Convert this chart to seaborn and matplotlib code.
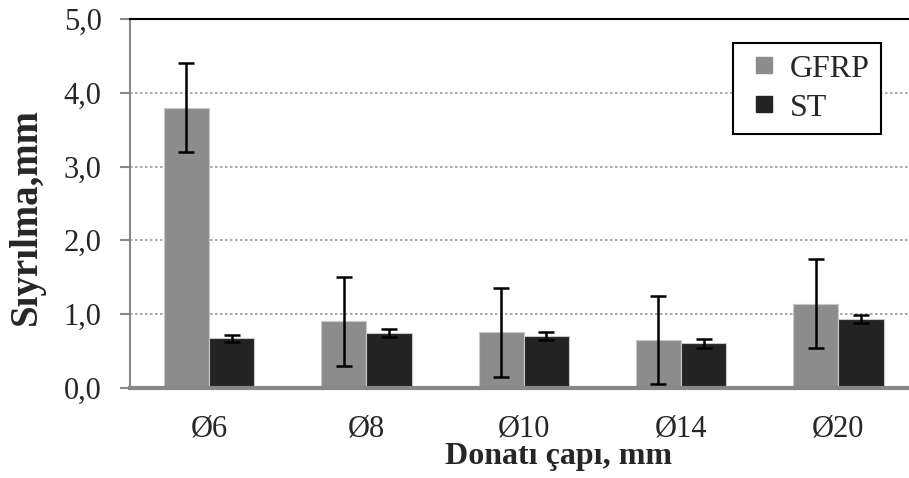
import matplotlib
matplotlib.use("Agg")
import matplotlib.pyplot as plt
from matplotlib.lines import Line2D
import seaborn as sns
import pandas as pd
import numpy as np

categories = ["Ø6", "Ø8", "Ø10", "Ø14", "Ø20"]
series = ["GFRP", "ST"]
gfrp_values = [3.80, 0.90, 0.75, 0.65, 1.14]
st_values = [0.67, 0.74, 0.70, 0.60, 0.93]
gfrp_err = [0.60, 0.60, 0.60, 0.60, 0.60]
st_err = [0.05, 0.055, 0.05, 0.06, 0.055]
yticks = [0.0, 1.0, 2.0, 3.0, 4.0, 5.0]
ytick_labels = ["0,0", "1,0", "2,0", "3,0", "4,0", "5,0"]
colors = {"GFRP": "#8c8c8c", "ST": "#232323"}

df = pd.DataFrame({
    "cat": categories * 2,
    "series": ["GFRP"] * len(categories) + ["ST"] * len(categories),
    "val": gfrp_values + st_values,
})
errs = {"GFRP": gfrp_err, "ST": st_err}

sns.set_style("white")
plt.rcParams["font.family"] = ["Liberation Serif", "DejaVu Serif"]

fig = plt.figure(figsize=(9.09, 4.78), dpi=100)
ax = fig.add_axes([0.1435, 0.189, 0.8654, 0.771])

sns.barplot(data=df, x="cat", y="val", hue="series", order=categories,
            hue_order=series, palette=colors, width=0.575, errorbar=None,
            edgecolor="#c8c8c8", linewidth=0.8, ax=ax, legend=False)

for cont, s in zip(ax.containers, series):
    xs = [p.get_x() + p.get_width() / 2 for p in cont]
    hs = [p.get_height() for p in cont]
    ax.errorbar(xs, hs, yerr=errs[s], fmt="none", ecolor="black",
                elinewidth=1.8, capsize=6, capthick=1.8, zorder=5)

ax.set_xlim(-0.5, 4.5)
ax.set_ylim(0, 5)
ax.set_yticks(yticks)
ax.set_yticklabels(ytick_labels)
ax.yaxis.grid(True, linestyle=(0, (1.5, 1.5)), color="#999999", linewidth=1.2)
ax.set_axisbelow(True)

ax.spines["right"].set_visible(False)
ax.spines["top"].set_color("black")
ax.spines["top"].set_linewidth(1.5)
ax.spines["left"].set_color("#888888")
ax.spines["left"].set_linewidth(1.5)
ax.spines["bottom"].set_color("#888888")
ax.spines["bottom"].set_linewidth(3)

ax.tick_params(axis="y", which="major", left=True, length=7.2, width=1.5,
               color="#888888", labelsize=22, pad=13.5)
ax.tick_params(axis="x", bottom=False, labelsize=22, pad=16)

ax.set_xlabel("Donatı çapı, mm", fontsize=23, fontweight="bold")
ax.set_ylabel("Sıyrılma,mm", fontsize=28, fontweight="bold")
ax.xaxis.set_label_coords(0.544, -0.186)
ax.xaxis.label.set_va("center")
ax.yaxis.set_label_coords(-0.132, 0.465)
ax.yaxis.label.set_va("center")

handles = [Line2D([0], [0], marker="s", linestyle="none", markersize=12,
                  markerfacecolor=colors[s], markeredgecolor=colors[s]) for s in series]
leg = ax.legend(handles, series, loc="upper right",
                bbox_to_anchor=(0.969, 0.910), bbox_transform=fig.transFigure,
                fontsize=23, frameon=True, fancybox=False, framealpha=1,
                edgecolor="black", handlelength=1.2, handletextpad=0.22,
                borderpad=0.35, labelspacing=0.3, borderaxespad=0)
leg.get_frame().set_linewidth(1.5)

fig.savefig("out.png", dpi=100)
